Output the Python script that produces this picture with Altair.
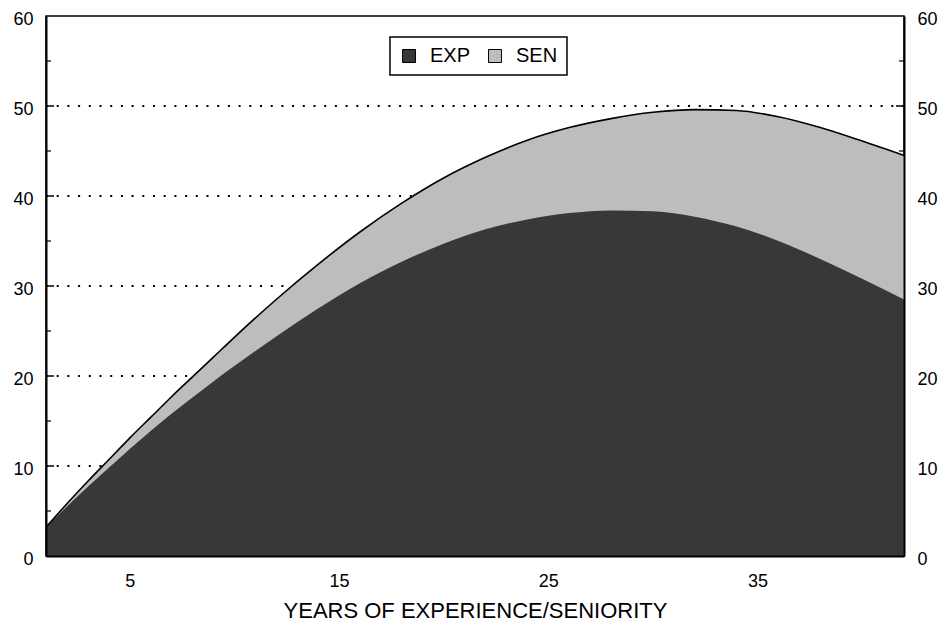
import altair as alt
import pandas as pd

# ---- data ----
years = [1, 2, 3, 4, 5, 6, 7, 8, 9, 10, 12, 14, 16, 18, 20, 22, 24, 26, 28, 30, 32, 34, 36, 38, 40, 42]
exp_vals = [3.2, 5.5, 7.7, 9.8, 11.9, 13.9, 15.8, 17.6, 19.4, 21.1, 24.4, 27.5, 30.3, 32.7, 34.7,
            36.3, 37.4, 38.1, 38.4, 38.3, 37.7, 36.6, 35.0, 33.0, 30.8, 28.5]
total_vals = [3.2, 5.8, 8.3, 10.7, 13.1, 15.4, 17.7, 19.9, 22.1, 24.3, 28.5, 32.4, 36.0, 39.2, 42.0,
              44.3, 46.2, 47.6, 48.6, 49.3, 49.6, 49.5, 48.8, 47.6, 46.1, 44.5]
series = ["EXP", "SEN"]
grid_vals = [10, 20, 30, 40, 50]
minor_vals = [5, 15, 25, 35, 45, 55]
y_labels = [0, 10, 20, 30, 40, 50, 60]
x_labels = [5, 15, 25, 35]
x_title = "YEARS OF EXPERIENCE/SENIORITY"

DARK = "#383838"
LIGHT = "#bdbdbd"
W, H = 858, 540

df = pd.DataFrame({"year": years, "EXP": exp_vals, "TOTAL": total_vals})
grid_df = pd.DataFrame({"v": grid_vals})
minor_df = pd.DataFrame({"v": minor_vals})

xs = alt.Scale(domain=[1, 42], nice=False, zero=False)
ys = alt.Scale(domain=[0, 60], nice=False)
color_scale = alt.Scale(domain=series, range=[DARK, LIGHT])

bottom_axis = alt.Axis(orient="bottom", values=x_labels, tickSize=0, labelPadding=16,
                       labelFontSize=18, labelColor="black", domainColor="black", domainWidth=2,
                       grid=False, title=x_title, titleFontSize=22, titleFontWeight="normal",
                       titleColor="black", titlePadding=10, zindex=1)
left_axis = alt.Axis(orient="left", values=y_labels, tickSize=0, labelPadding=13, labelOffset=3,
                     labelFontSize=18, labelColor="black", domainColor="black", domainWidth=2,
                     grid=False, title=None, zindex=1)
right_axis = alt.Axis(orient="right", values=y_labels, tickSize=0, labelPadding=13, labelOffset=3,
                      labelFontSize=18, labelColor="black", domainColor="black", domainWidth=2,
                      grid=False, title=None, zindex=1)

legend = alt.Legend(orient="none", legendX=344, legendY=21, direction="horizontal", title=None,
                    symbolType="square", symbolSize=169, symbolStrokeColor="black",
                    symbolStrokeWidth=1, labelFontSize=20, labelColor="black", labelOffset=11,
                    columnPadding=14, padding=9, strokeColor="black", fillColor="white")

grid = alt.Chart(grid_df).mark_rule(color="black", strokeWidth=2, strokeDash=[2, 8.7]).encode(
    y=alt.Y("v:Q", scale=ys, axis=None))
major_l = alt.Chart(grid_df).mark_rule(color="black", strokeWidth=1.5).encode(
    y=alt.Y("v:Q", scale=ys, axis=None), x=alt.value(0), x2=alt.value(8))
major_r = alt.Chart(grid_df).mark_rule(color="black", strokeWidth=1.5).encode(
    y=alt.Y("v:Q", scale=ys, axis=None), x=alt.value(W - 8), x2=alt.value(W))
minor_l = alt.Chart(minor_df).mark_rule(color="black", strokeWidth=1.2).encode(
    y=alt.Y("v:Q", scale=ys, axis=None), x=alt.value(0), x2=alt.value(5))
minor_r = alt.Chart(minor_df).mark_rule(color="black", strokeWidth=1.2).encode(
    y=alt.Y("v:Q", scale=ys, axis=None), x=alt.value(W - 5), x2=alt.value(W))

sen_area = alt.Chart(df).transform_calculate(series='"SEN"').mark_area(interpolate="monotone").encode(
    x=alt.X("year:Q", scale=xs, axis=bottom_axis),
    y=alt.Y("TOTAL:Q", scale=ys, axis=left_axis),
    color=alt.Color("series:N", scale=color_scale, legend=legend))
exp_area = alt.Chart(df).transform_calculate(series='"EXP"').mark_area(interpolate="monotone").encode(
    x=alt.X("year:Q", scale=xs, axis=bottom_axis),
    y=alt.Y("EXP:Q", scale=ys, axis=right_axis),
    color=alt.Color("series:N", scale=color_scale, legend=legend))
top_line = alt.Chart(df).mark_line(interpolate="monotone", color="black", strokeWidth=1.6).encode(
    x=alt.X("year:Q", scale=xs, axis=bottom_axis),
    y=alt.Y("TOTAL:Q", scale=ys, axis=None))

chart = alt.layer(grid, major_l, major_r, minor_l, minor_r, sen_area, exp_area, top_line).resolve_axis(
    y="independent"
).properties(
    width=W, height=H,
    autosize=alt.AutoSizeParams(type="none"),
    padding={"left": 38, "top": 8, "right": 36, "bottom": 68},
).configure(font="Liberation Sans").configure_view(stroke="black", strokeWidth=1.5).configure_legend(
    strokeWidth=1.5)

chart.save("out.html", embed_options={"renderer": "svg", "actions": False})
